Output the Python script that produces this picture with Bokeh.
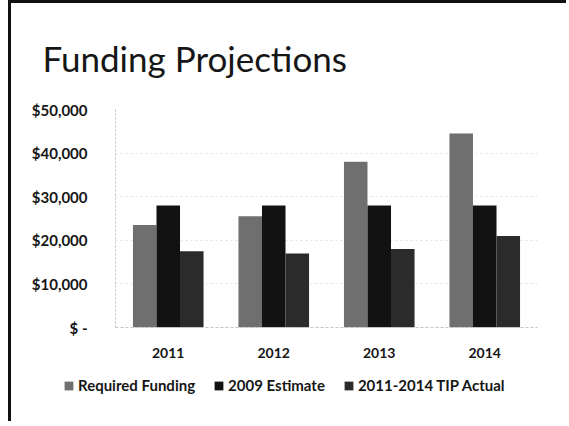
from bokeh.plotting import figure
from bokeh.models import (ColumnDataSource, FactorRange, Range1d, FixedTicker,
                          Legend, LegendItem, Title)
from bokeh.transform import dodge
from bokeh.embed import file_html
from bokeh.resources import INLINE

# ---- data ----
years = ["2011", "2012", "2013", "2014"]
required_funding = [23500, 25500, 38000, 44500]
estimate_2009 = [28000, 28000, 28000, 28000]
tip_actual = [17500, 17000, 18000, 21000]
series_names = ["Required Funding", "2009 Estimate", "2011-2014 TIP Actual"]
y_ticks = [0, 10000, 20000, 30000, 40000, 50000]
y_tick_labels = ["$ -", "$10,000", "$20,000", "$30,000", "$40,000", "$50,000"]
title_text = "Funding Projections"

colors = ["#6f6f6f", "#121212", "#2b2b2b"]
FONT = "Lato"
TXT = "#161616"

src = ColumnDataSource(dict(year=years, req=required_funding,
                            est=estimate_2009, tip=tip_actual))

p = figure(x_range=FactorRange(*years, range_padding=0),
           y_range=Range1d(0, 50000),
           width=558, height=369, output_backend="svg", toolbar_location=None,
           min_border_left=104, min_border_right=32, min_border_bottom=45,
           min_border_top=106)
p.styles = {"margin-left": "8px",
            "border-left": "3px solid #111", "border-top": "3px solid #111"}

bw = 0.223
r1 = p.vbar(x=dodge("year", -bw, range=p.x_range), top="req", width=bw,
            source=src, fill_color=colors[0], line_color=None)
r2 = p.vbar(x=dodge("year", 0, range=p.x_range), top="est", width=bw,
            source=src, fill_color=colors[1], line_color=None)
r3 = p.vbar(x=dodge("year", bw, range=p.x_range), top="tip", width=bw,
            source=src, fill_color=colors[2], line_color=None)

t = Title(text=title_text, text_font=FONT, text_font_size="35px",
          text_font_style="normal", text_color=TXT, align="left",
          offset=-73, standoff=61)
p.add_layout(t, "above")

p.outline_line_color = None
p.background_fill_color = "white"
p.border_fill_color = "white"

p.xgrid.grid_line_color = None
p.ygrid.grid_line_color = "#cfcfcf"
p.ygrid.grid_line_dash = "2 3"
p.ygrid.grid_line_alpha = 0.6
p.ygrid.ticker = FixedTicker(ticks=y_ticks)

p.yaxis.ticker = FixedTicker(ticks=y_ticks)
p.yaxis.major_label_overrides = {v: s for v, s in zip(y_ticks, y_tick_labels)}
p.yaxis.axis_line_color = "#bdbdbd"
p.yaxis.axis_line_dash = "2 2"
p.yaxis.major_tick_line_color = None
p.yaxis.minor_tick_line_color = None
p.yaxis.major_tick_out = 0
p.yaxis.major_label_standoff = 28
p.yaxis.major_label_text_font = FONT
p.yaxis.major_label_text_font_style = "bold"
p.yaxis.major_label_text_font_size = "15px"
p.yaxis.major_label_text_color = TXT

p.xaxis.axis_line_color = "#c4c4c4"
p.xaxis.axis_line_dash = "3 2"
p.xaxis.major_tick_line_color = None
p.xaxis.minor_tick_line_color = None
p.xaxis.major_tick_out = 0
p.xaxis.major_label_standoff = 20
p.xaxis.major_label_text_font = FONT
p.xaxis.major_label_text_font_style = "bold"
p.xaxis.major_label_text_font_size = "14px"
p.xaxis.major_label_text_color = TXT

# ---- legend strip (its own small root, so nothing clips it) ----
p2 = figure(width=558, height=52, output_backend="svg", toolbar_location=None,
            x_axis_type=None, y_axis_type=None, min_border=0,
            x_range=Range1d(0, 1), y_range=Range1d(0, 1))
p2.styles = {"margin-left": "8px", "border-left": "3px solid #111"}
p2.outline_line_color = None
p2.grid.grid_line_color = None
p2.border_fill_color = "white"
# legend swatches only: one zero-height bar each, outside the visible range
lr = [p2.vbar(x=[-1], top=[0], width=0.1, fill_color=c, line_color=None)
      for c in colors]
legend = Legend(items=[LegendItem(label=n, renderers=[r])
                       for n, r in zip(series_names, lr)],
                orientation="horizontal", location=(52, 27),
                padding=0, margin=0, spacing=18, label_standoff=4,
                glyph_width=11, glyph_height=11, label_height=16,
                border_line_color=None, background_fill_alpha=0,
                label_text_font=FONT, label_text_font_style="bold",
                label_text_font_size="15px", label_text_color=TXT)
p2.add_layout(legend, "center")

open("out.html", "w").write(file_html([p, p2], INLINE))
